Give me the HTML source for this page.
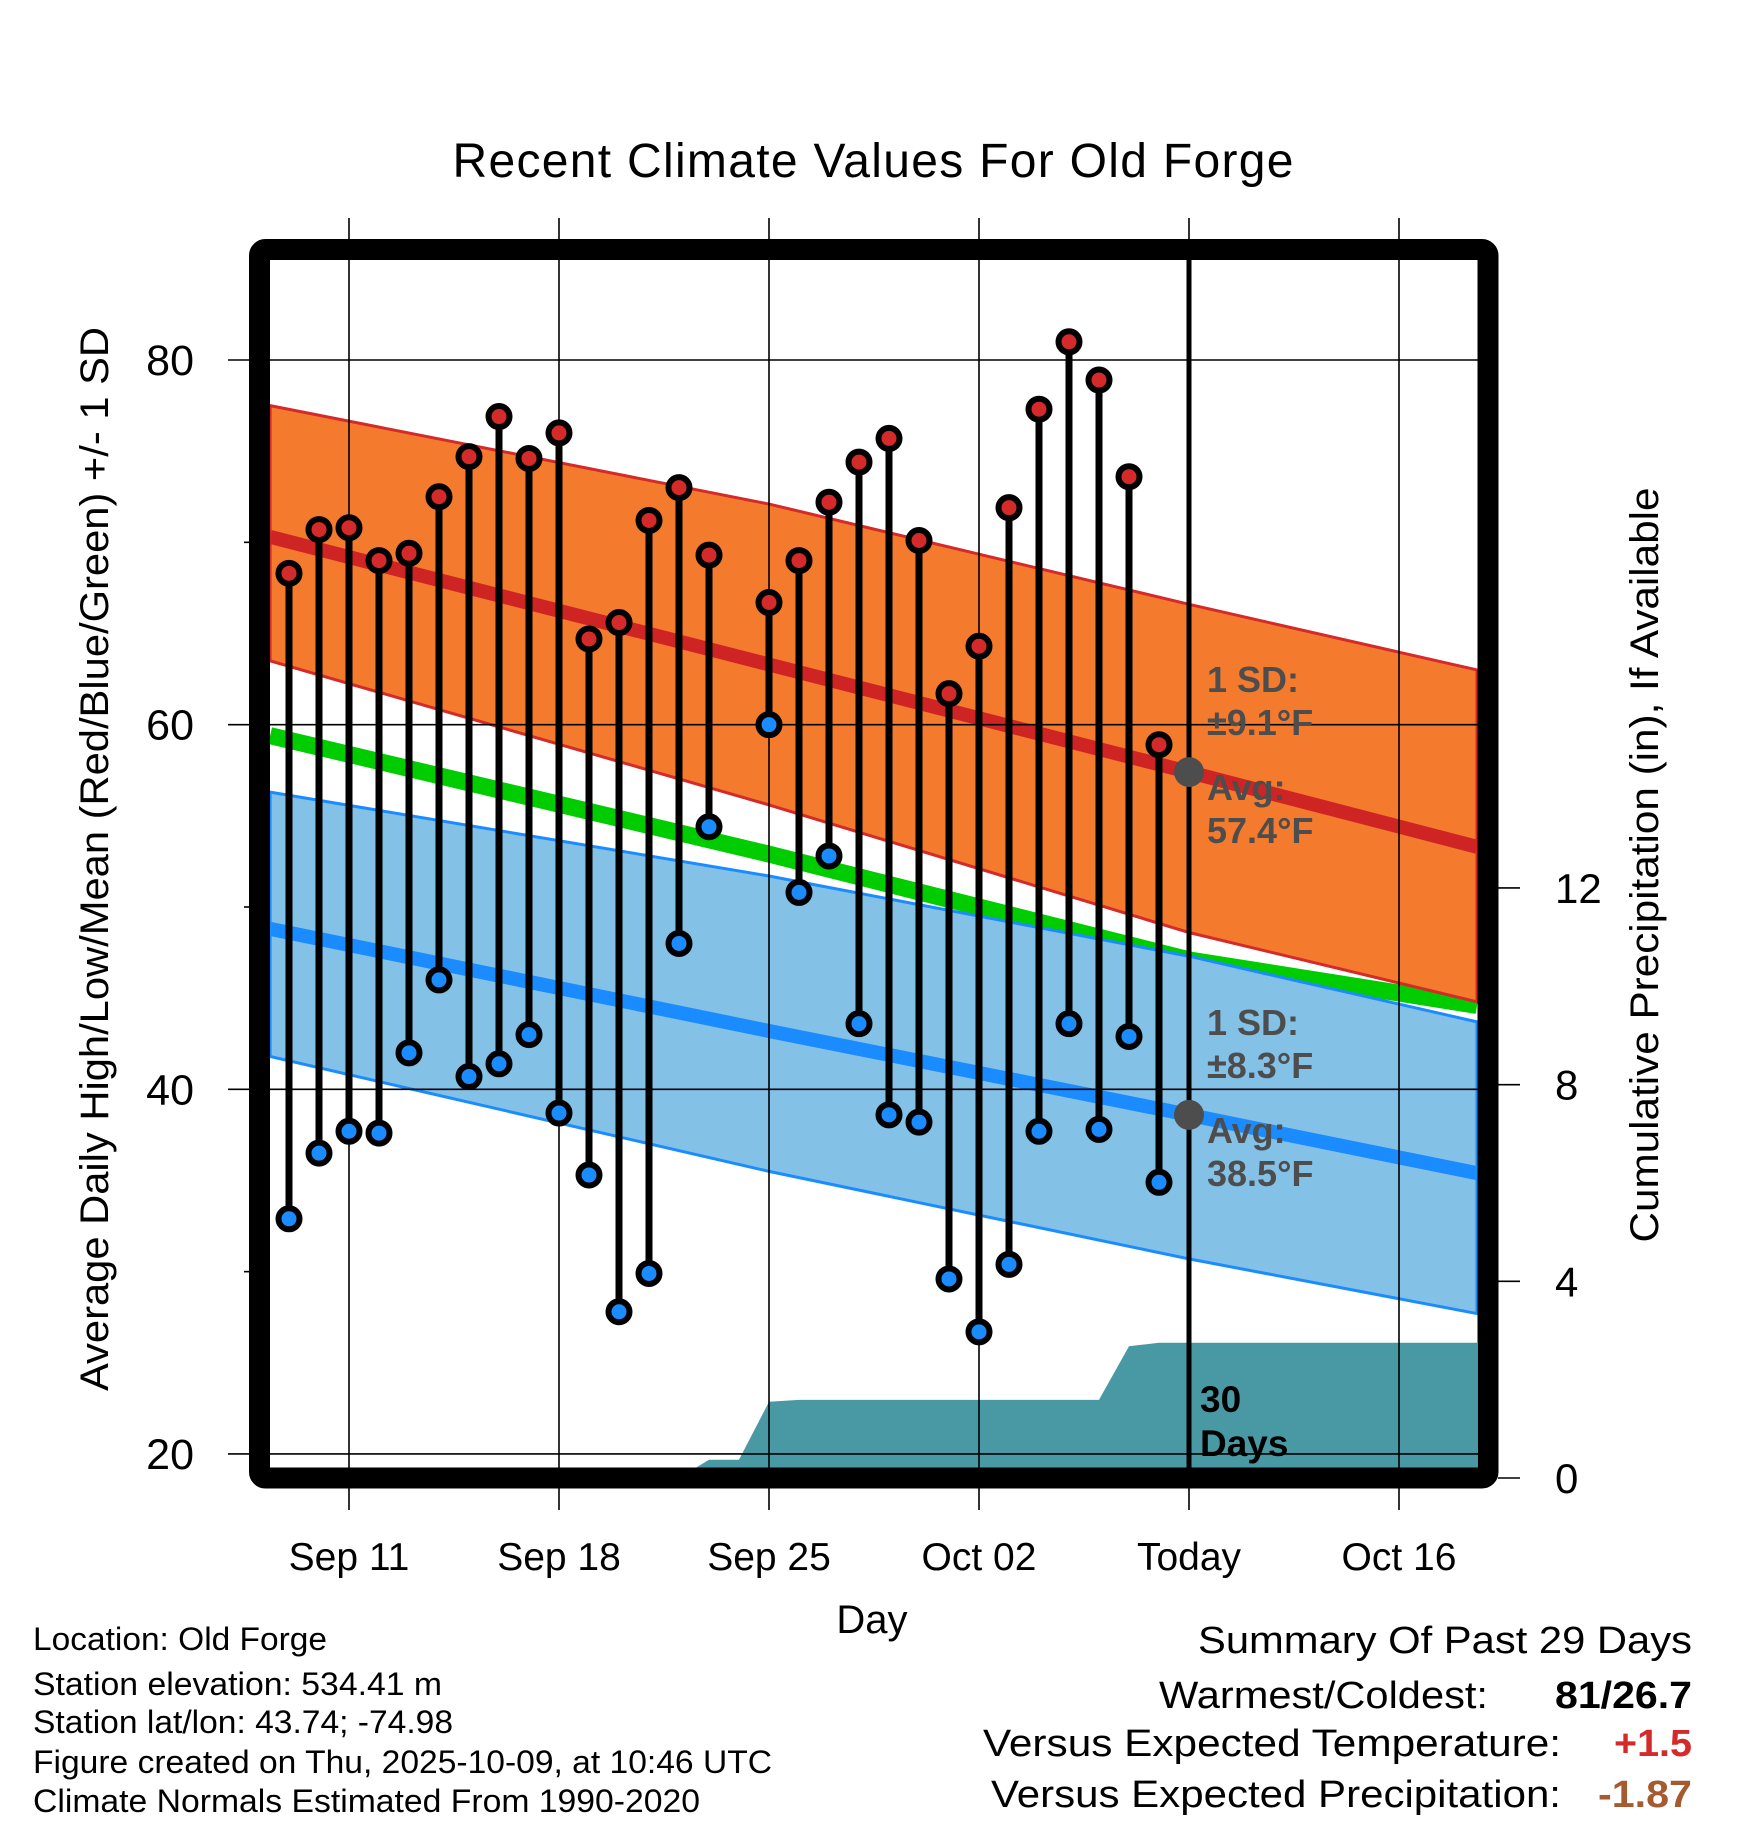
<!DOCTYPE html>
<html><head><meta charset="utf-8">
<style>
html,body{margin:0;padding:0;background:#fff;}
svg{display:block;font-family:"Liberation Sans",Arial,sans-serif;}
</style></head>
<body>
<svg id="chart" width="1748" height="1828" viewBox="0 0 1748 1828" xmlns="http://www.w3.org/2000/svg">
<defs><clipPath id="plotclip"><rect x="270" y="260" width="1208" height="1208"/></clipPath></defs>
<rect width="1748" height="1828" fill="#fff"/>
<text x="873" y="177" font-size="48" text-anchor="middle" textLength="841">Recent Climate Values For Old Forge</text>
<g id="bands" clip-path="url(#plotclip)"></g>
<g id="grid"></g>
<g id="overlay" clip-path="url(#plotclip)"></g>
<g id="marks"></g>
<g id="annot"></g>
<rect x="259.5" y="249.5" width="1228.5" height="1228.5" rx="6" fill="none" stroke="#000" stroke-width="21"/>
<g id="axes"></g>
<text transform="translate(108,859) rotate(-90)" font-size="40" text-anchor="middle" textLength="1064" lengthAdjust="spacingAndGlyphs">Average Daily High/Low/Mean (Red/Blue/Green) +/- 1 SD</text>
<text transform="translate(1658,865) rotate(-90)" font-size="40" text-anchor="middle" textLength="755" lengthAdjust="spacingAndGlyphs">Cumulative Precipitation (in), If Available</text>
<text x="872" y="1633" font-size="40" text-anchor="middle">Day</text>
<g font-size="32">
<text x="33" y="1650" textLength="294" lengthAdjust="spacingAndGlyphs">Location: Old Forge</text>
<text x="33" y="1695" textLength="409" lengthAdjust="spacingAndGlyphs">Station elevation: 534.41 m</text>
<text x="33" y="1733" textLength="420" lengthAdjust="spacingAndGlyphs">Station lat/lon: 43.74; -74.98</text>
<text x="33" y="1773" textLength="739" lengthAdjust="spacingAndGlyphs">Figure created on Thu, 2025-10-09, at 10:46 UTC</text>
<text x="33" y="1812" textLength="667" lengthAdjust="spacingAndGlyphs">Climate Normals Estimated From 1990-2020</text>
</g>
<g font-size="38">
<text x="1198" y="1653" textLength="494" lengthAdjust="spacingAndGlyphs">Summary Of Past 29 Days</text>
<text x="1159" y="1708" textLength="329" lengthAdjust="spacingAndGlyphs">Warmest/Coldest:</text>
<text x="1555" y="1708" textLength="137" lengthAdjust="spacingAndGlyphs" font-weight="bold">81/26.7</text>
<text x="983" y="1756" textLength="578" lengthAdjust="spacingAndGlyphs">Versus Expected Temperature:</text>
<text x="1614" y="1756" textLength="78" lengthAdjust="spacingAndGlyphs" font-weight="bold" fill="#d42a2a">+1.5</text>
<text x="991" y="1807" textLength="570" lengthAdjust="spacingAndGlyphs">Versus Expected Precipitation:</text>
<text x="1598" y="1807" textLength="94" lengthAdjust="spacingAndGlyphs" font-weight="bold" fill="#a65a30">-1.87</text>
</g>
</svg>
<script>
// day index: 0 = Sep 11
const obsDays = [-2,-1,0,1,2,3,4,5,6,7,8,9,10,11,12,14,15,16,17,18,19,20,21,22,23,24,25,26,27];
const highs = [68.3,70.7,70.8,69.0,69.4,72.5,74.7,76.9,74.6,76.0,64.7,65.6,71.2,73.0,69.3,66.7,69.0,72.2,74.4,75.7,70.1,61.7,64.3,71.9,77.3,81.0,78.9,73.6,58.9];
const lows = [32.9,36.5,37.7,37.6,42.0,46.0,40.7,41.4,43.0,38.7,35.3,27.8,29.9,48.0,54.4,60.0,50.8,52.8,43.6,38.6,38.2,29.6,26.7,30.4,37.7,43.6,37.8,42.9,34.9];
const normDays = [-2.63,14,28,37.6];
const normHigh = [70.3,63.3,57.4,53.3];
const highUpper = [77.5,72.1,66.6,63.0];
const highLower = [63.5,55.6,48.6,44.8];
const normMean = [59.4,52.9,47.1,44.6];
const normLow = [48.8,43.2,38.6,35.4];
const lowUpper = [56.3,51.7,47.3,43.7];
const lowLower = [41.8,35.5,30.7,27.7];
const precipDays = [11,12,13,14,15,25,26,27,37.6];
const precipVals = [0,0.37,0.37,1.55,1.59,1.59,2.68,2.75,2.75];
const xTickDays = [0,7,14,21,28,35];
const xTickLabels = ["Sep 11","Sep 18","Sep 25","Oct 02","Today","Oct 16"];
const yTicks = [20,40,60,80];
const yMinor = [30,50,70];
const y2Ticks = [0,4,8,12];
const todayDay = 28;

const NS="http://www.w3.org/2000/svg";
const X = d => 349 + d*30;
const Y = t => 360 + (80-t)*18.233;
const Y2 = p => 1478 - p*49.17;
function mk(tag, attrs, parent){const e=document.createElementNS(NS,tag);for(const k in attrs)e.setAttribute(k,attrs[k]);parent.appendChild(e);return e;}
const bands=document.getElementById('bands'), grid=document.getElementById('grid'), overlay=document.getElementById('overlay'), marks=document.getElementById('marks'), axes=document.getElementById('axes'), annot=document.getElementById('annot');
function line(arr){return normDays.map((d,i)=>X(d)+','+Y(arr[i])).join(' ');}
function band(up,lo){return normDays.map((d,i)=>X(d)+','+Y(up[i])).concat(normDays.slice().reverse().map((d,j)=>{const i=normDays.length-1-j;return X(d)+','+Y(lo[i]);})).join(' ');}

let g=mk('polyline',{points:line(normMean),fill:'none',stroke:'#00cc00','stroke-width':17},bands);


let b=mk('polygon',{points:band(lowUpper,lowLower),fill:'#83c1e7',stroke:'#1a8cff','stroke-width':3},bands);


let o=mk('polygon',{points:band(highUpper,highLower),fill:'#f47a2e',stroke:'#d42a2a','stroke-width':3},bands);


let rl=mk('polyline',{points:line(normHigh),fill:'none',stroke:'#cf2424','stroke-width':14},bands);


let bl=mk('polyline',{points:line(normLow),fill:'none',stroke:'#1a8cff','stroke-width':14},bands);


let pp=precipDays.map((d,i)=>X(d)+','+Y2(precipVals[i]));
let pr=mk('polygon',{points:X(precipDays[0])+','+Y2(0)+' '+pp.join(' ')+' '+X(precipDays[precipDays.length-1])+','+Y2(0),fill:'#4899a3'},bands);



xTickDays.forEach((d,i)=>{
  const l=mk('line',{x1:X(d),x2:X(d),y1:218,y2:1510,stroke:'#000','stroke-width':1.6},grid);
  
  
  const t=mk('text',{x:X(d),y:1570,'font-size':39,'text-anchor':'middle'},axes);
  t.textContent=xTickLabels[i];
  
  
});
yTicks.forEach(v=>{
  const l=mk('line',{x1:228,x2:1478,y1:Y(v),y2:Y(v),stroke:'#000','stroke-width':1.6},grid);
  
  
  const t=mk('text',{x:194,y:Y(v)+15,'font-size':43,'text-anchor':'end'},axes);
  t.textContent=v;
  
  
});
yMinor.forEach(v=>{
  const l=mk('line',{x1:244,x2:252,y1:Y(v),y2:Y(v),stroke:'#000','stroke-width':1.6},grid);
  
  
});
y2Ticks.forEach(v=>{
  const l=mk('line',{x1:1498,x2:1520,y1:Y2(v),y2:Y2(v),stroke:'#000','stroke-width':1.6},axes);
  
  
  const t=mk('text',{x:1555,y:Y2(v)+15,'font-size':42},axes);
  t.textContent=v;
  
  
});
let td=mk('line',{x1:X(todayDay),x2:X(todayDay),y1:260,y2:1470,stroke:'#000','stroke-width':5},marks);



obsDays.forEach((d,i)=>{
  const s=mk('line',{x1:X(d),x2:X(d),y1:Y(highs[i]),y2:Y(lows[i]),stroke:'#000','stroke-width':7},marks);
  
  
});
obsDays.forEach((d,i)=>{
  const h=mk('circle',{cx:X(d),cy:Y(highs[i]),r:10.5,fill:'#d42a2a',stroke:'#000','stroke-width':6},marks);
  
  
  const l=mk('circle',{cx:X(d),cy:Y(lows[i]),r:10.5,fill:'#1a8cff',stroke:'#000','stroke-width':6},marks);
  
  
});
function interp(arr,d){for(let i=0;i<normDays.length-1;i++){if(d<=normDays[i+1]){const f=(d-normDays[i])/(normDays[i+1]-normDays[i]);return arr[i]+f*(arr[i+1]-arr[i]);}}return arr[arr.length-1];}
const gh=mk('circle',{cx:X(todayDay),cy:Y(interp(normHigh,todayDay)),r:15,fill:'#4d4d4d'},annot);


const gl=mk('circle',{cx:X(todayDay),cy:Y(interp(normLow,todayDay)),r:15,fill:'#4d4d4d'},annot);


const labels=[["1 SD:",692],["±9.1°F",735],["Avg:",800],["57.4°F",843],["1 SD:",1035],["±8.3°F",1078],["Avg:",1143],["38.5°F",1186]];
labels.forEach(a=>{
  const t=mk('text',{x:1207,y:a[1],'font-size':36,'font-weight':'bold',fill:'#4d4d4d'},annot);
  t.textContent=a[0];
  
  
});
[["30",1412],["Days",1456]].forEach(a=>{
  const t=mk('text',{x:1200,y:a[1],'font-size':37,'font-weight':'bold',fill:'#000'},annot);
  t.textContent=a[0];
  
  
});
</script>
</body></html>
